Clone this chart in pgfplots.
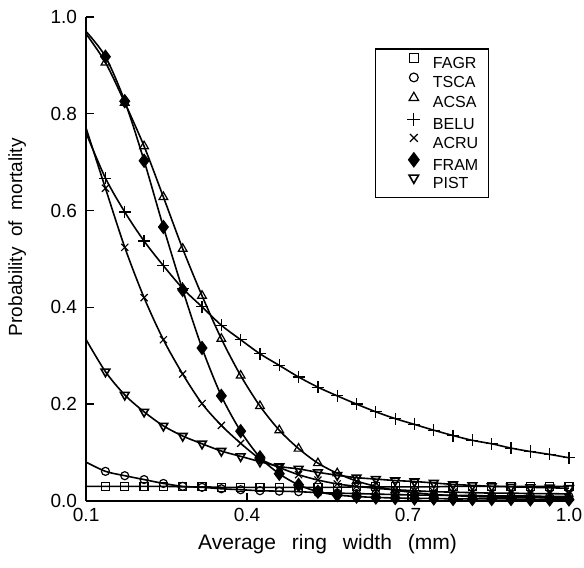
\documentclass[border=0pt]{standalone}
\usepackage{pgfplots}
\pgfplotsset{compat=1.18}
\usepackage{fontspec}
\setmainfont{Liberation Sans}

% mortality curves, x = average ring width (mm)
\pgfplotstableread{
x      fagr   tsca   acsa   belu   acru   fram   pist
0.100  0.030  0.080  0.965  0.760  0.770  0.970  0.333
0.136  0.030  0.061  0.906  0.667  0.646  0.918  0.267
0.172  0.030  0.052  0.823  0.597  0.524  0.826  0.219
0.208  0.030  0.044  0.733  0.537  0.420  0.703  0.184
0.244  0.030  0.036  0.628  0.486  0.333  0.566  0.155
0.280  0.029  0.030  0.521  0.439  0.262  0.436  0.134
0.316  0.029  0.028  0.424  0.401  0.201  0.316  0.118
0.352  0.028  0.025  0.335  0.363  0.156  0.217  0.103
0.388  0.028  0.023  0.259  0.333  0.119  0.144  0.092
0.424  0.028  0.021  0.196  0.304  0.087  0.090  0.081
0.460  0.028  0.020  0.146  0.280  0.069  0.056  0.071
0.496  0.028  0.019  0.108  0.256  0.054  0.033  0.066
0.532  0.028  0.017  0.078  0.235  0.043  0.019  0.059
0.568  0.028  0.016  0.057  0.217  0.035  0.012  0.053
0.604  0.029  0.015  0.041  0.200  0.030  0.009  0.048
0.640  0.029  0.014  0.030  0.184  0.026  0.007  0.045
0.676  0.029  0.013  0.022  0.170  0.023  0.006  0.042
0.712  0.029  0.012  0.017  0.158  0.021  0.005  0.040
0.748  0.029  0.012  0.013  0.146  0.019  0.005  0.037
0.784  0.030  0.011  0.011  0.135  0.018  0.004  0.034
0.820  0.030  0.011  0.009  0.125  0.017  0.004  0.032
0.856  0.030  0.010  0.008  0.118  0.016  0.004  0.030
0.892  0.030  0.010  0.007  0.109  0.016  0.004  0.029
0.928  0.030  0.010  0.007  0.102  0.015  0.003  0.028
0.964  0.030  0.009  0.006  0.096  0.015  0.003  0.027
1.000  0.030  0.009  0.006  0.089  0.014  0.003  0.026
}\mort

\begin{document}
\begin{tikzpicture}
\begin{axis}[
    scale only axis,
    width=241pt, height=241.5pt,
    xmin=0.1, xmax=1.0,
    ymin=0, ymax=1.0,
    axis x line=bottom, axis y line=left,
    axis line style={-, line width=1.2pt},
    tick align=inside,
    xtick={0.1,0.4,0.7,1.0},
    ytick={0,0.2,0.4,0.6,0.8,1.0},
    major tick length=4pt,
    tick style={line width=0.6pt, black},
    /pgf/number format/assume math mode=true,
    xticklabel style={/pgf/number format/.cd, fixed, fixed zerofill, precision=1},
    yticklabel style={xshift=-1pt, /pgf/number format/.cd, fixed, fixed zerofill, precision=1},
    ticklabel style={font=\fontsize{9.5}{10}\selectfont},
    xlabel={Average\hspace{5pt} ring\hspace{5pt} width\hspace{5pt} (mm)},
    ylabel={Probability\ \ of\ \ mortality},
    xlabel style={font=\fontsize{10.5}{12}\selectfont, at={(axis description cs:0.5,0)},
        anchor=center, yshift=-21.5pt},
    ylabel style={font=\fontsize{9.5}{11}\selectfont,
        at={(axis description cs:-0.143,0.545)}, anchor=center},
    every axis plot/.append style={black, line width=0.8pt, smooth, mark phase=2,
        mark options={solid, line width=0.6pt}},
    legend cell align=left,
    legend style={at={(0.598,0.936)}, anchor=north west,
        draw=black, line width=0.8pt,
        font=\fontsize{8}{9}\selectfont,
        inner xsep=3pt, inner ysep=2.5pt, row sep=0pt,
        nodes={inner ysep=0pt, inner xsep=2pt, text height=6.7pt, text depth=2.3pt},
        /tikz/every even column/.style={column sep=4pt}},
    legend image code/.code={
        \path (-0.55cm,0cm) (0.25cm,0cm);
        \draw[#1, mark phase=1, every mark/.append style={scale=1.1}]
            plot coordinates {(0cm,2.9pt)};},
]
\addplot[mark=square, mark size=2pt] table[x=x, y=fagr] {\mort};
\addlegendentry{FAGR}
\addplot[mark=o, mark size=2pt] table[x=x, y=tsca] {\mort};
\addlegendentry{TSCA}
\addplot[mark=triangle, mark size=2.5pt] table[x=x, y=acsa] {\mort};
\addlegendentry{ACSA}
\addplot[mark=+, mark size=3pt] table[x=x, y=belu] {\mort};
\addlegendentry{BELU}
\addplot[mark=x, mark size=2.5pt] table[x=x, y=acru] {\mort};
\addlegendentry{ACRU}
\addplot[mark=diamond*, mark size=3.2pt] table[x=x, y=fram] {\mort};
\addlegendentry{FRAM}
\addplot[mark=triangle, mark size=2.5pt, mark options={rotate=180}] table[x=x, y=pist] {\mort};
\addlegendentry{PIST}
\end{axis}
\pgfresetboundingbox
\path[use as bounding box] ([shift={(-43pt,-33.5pt)}]current axis.south west)
    rectangle ([shift={(7.5pt,8.5pt)}]current axis.north east);
\end{tikzpicture}
\end{document}
